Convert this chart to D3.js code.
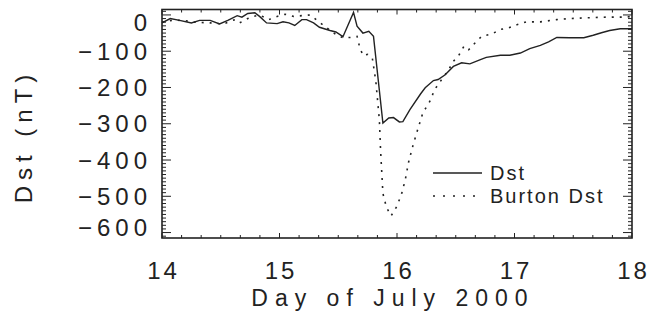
<!DOCTYPE html>
<html>
<head>
<meta charset="utf-8">
<script src="https://cdn.jsdelivr.net/npm/d3@7"></script>
<style>
  body { margin: 0; background: #fff; }
  svg text { font-family: "Liberation Sans", "DejaVu Sans", sans-serif; fill: #222; }
</style>
</head>
<body>
<svg id="chart" width="666" height="324"></svg>
<script>
// Dst observed (solid) - day of July 2000, nT
const dstDays = [14.00,14.07,14.15,14.25,14.32,14.41,14.49,14.56,14.64,14.68,14.73,14.79,14.83,14.89,14.98,15.03,15.08,15.13,15.19,15.23,15.29,15.34,15.43,15.48,15.54,15.63,15.66,15.71,15.76,15.80,15.88,15.93,15.97,16.02,16.05,16.11,16.20,16.24,16.31,16.35,16.41,16.48,16.55,16.62,16.71,16.76,16.88,16.96,17.05,17.13,17.22,17.29,17.36,17.47,17.59,17.67,17.74,17.81,17.90,18.00];
const dstValues = [-22,-10,-15,-22,-15,-15,-25,-15,-2,-6,4,6,-4,-22,-24,-19,-22,-29,-13,-13,-22,-34,-43,-47,-60,7,-31,-50,-45,-59,-298,-284,-283,-295,-294,-261,-218,-201,-181,-178,-165,-142,-132,-135,-123,-117,-111,-111,-105,-93,-84,-74,-62,-63,-63,-56,-49,-43,-38,-38];

// Burton model Dst (dotted)
const burtonDays = [14.00,14.10,14.20,14.28,14.41,14.52,14.62,14.66,14.73,14.78,14.83,14.91,14.98,15.05,15.12,15.19,15.26,15.32,15.40,15.48,15.54,15.61,15.66,15.68,15.71,15.75,15.79,15.82,15.85,15.86,15.87,15.88,15.91,15.95,16.00,16.04,16.07,16.10,16.14,16.18,16.22,16.28,16.32,16.38,16.44,16.48,16.53,16.57,16.61,16.65,16.72,16.81,16.88,16.95,17.02,17.10,17.22,17.36,17.47,17.61,17.78,17.94,18.00];
const burtonValues = [-20,-14,-16,-20,-22,-25,-13,-22,-10,-4,0,-13,-4,2,-4,-2,0,-15,-35,-54,-63,-62,-59,-86,-112,-109,-119,-183,-290,-372,-432,-492,-530,-554,-527,-492,-455,-404,-355,-312,-270,-238,-206,-178,-151,-128,-109,-86,-96,-82,-59,-52,-40,-36,-27,-19,-19,-13,-10,-8,-6,-6,-4];

const xTicks = [14, 15, 16, 17, 18];
const yTicks = [0, -100, -200, -300, -400, -500, -600];
const seriesNames = ["Dst", "Burton Dst"];

const padL = 162, padR = 632, padT = 9.5, padB = 238;
const svg = d3.select("#chart");

const x = d3.scaleLinear().domain([14, 18]).range([padL, padR]);
const y = d3.scaleLinear().domain([-615, 15]).range([padB, padT]);

// minor ticks
const xMinor = d3.range(14, 18.0001, 1/6);
const yMinor = d3.range(-610, 11, 10);
const isMajorX = d => Math.abs(d - Math.round(d)) < 1e-6;
const isMajorY = d => Math.abs(d % 100) < 1e-6;

const tickG = svg.append("g").attr("stroke", "#222").attr("stroke-width", 1);
// x ticks bottom & top
tickG.selectAll("line.xb").data(xMinor).join("line").attr("class", "xb")
  .attr("x1", d => x(d)).attr("x2", d => x(d))
  .attr("y1", padB).attr("y2", d => padB - (isMajorX(d) ? 5 : 3));
tickG.selectAll("line.xt").data(xMinor).join("line").attr("class", "xt")
  .attr("x1", d => x(d)).attr("x2", d => x(d))
  .attr("y1", padT).attr("y2", d => padT + (isMajorX(d) ? 5 : 3));
// y ticks left & right
tickG.selectAll("line.yl").data(yMinor).join("line").attr("class", "yl")
  .attr("y1", d => y(d)).attr("y2", d => y(d))
  .attr("x1", padL).attr("x2", d => padL + (isMajorY(d) ? 9 : 4));
tickG.selectAll("line.yr").data(yMinor).join("line").attr("class", "yr")
  .attr("y1", d => y(d)).attr("y2", d => y(d))
  .attr("x1", padR).attr("x2", d => padR - (isMajorY(d) ? 9 : 4));

// frame
svg.append("rect")
  .attr("x", padL).attr("y", padT)
  .attr("width", padR - padL).attr("height", padB - padT)
  .attr("fill", "none").attr("stroke", "#222").attr("stroke-width", 1.6);

// tick labels
svg.selectAll("text.xlab").data(xTicks).join("text").attr("class", "xlab")
  .attr("x", d => x(d) + 1.5).attr("y", 278.5)
  .attr("text-anchor", "middle")
  .attr("font-size", 24).attr("letter-spacing", 3)
  .text(d => d);

svg.selectAll("text.ylab").data(yTicks).join("text").attr("class", "ylab")
  .attr("x", 152)
  .attr("y", d => Math.min(Math.max(y(d), 22), 227) + 8.5)
  .attr("text-anchor", "end")
  .attr("font-size", 24).attr("letter-spacing", 5)
  .text(d => d < 0 ? "\u2212" + Math.abs(d) : d);

// axis titles
svg.append("text")
  .attr("x", 393).attr("y", 305.5)
  .attr("text-anchor", "middle")
  .attr("font-size", 23).attr("letter-spacing", 7)
  .text("Day of July 2000");

svg.append("text")
  .attr("transform", "translate(32,136) rotate(-90)")
  .attr("text-anchor", "middle")
  .attr("font-size", 24).attr("letter-spacing", 6)
  .text("Dst (nT)");

// lines
const line = d3.line().x(d => x(d[0])).y(d => y(d[1]));
const dstData = d3.zip(dstDays, dstValues);
const burtonData = d3.zip(burtonDays, burtonValues);

svg.append("path").datum(burtonData)
  .attr("d", line).attr("fill", "none")
  .attr("stroke", "#222").attr("stroke-width", 1.6)
  .attr("stroke-dasharray", "2,6");

svg.append("path").datum(dstData)
  .attr("d", line).attr("fill", "none")
  .attr("stroke", "#222").attr("stroke-width", 1.4);

// legend
const legend = svg.append("g");
seriesNames.forEach((name, i) => {
  const ly = 173 + i * 23;
  legend.append("line")
    .attr("x1", 433).attr("x2", 482).attr("y1", ly).attr("y2", ly)
    .attr("stroke", "#222").attr("stroke-width", 1.5)
    .attr("stroke-dasharray", i === 1 ? "2,8" : null);
  legend.append("text")
    .attr("x", 490).attr("y", ly + 7)
    .attr("font-size", 20).attr("letter-spacing", 2)
    .text(name);
});
</script>
</body>
</html>
